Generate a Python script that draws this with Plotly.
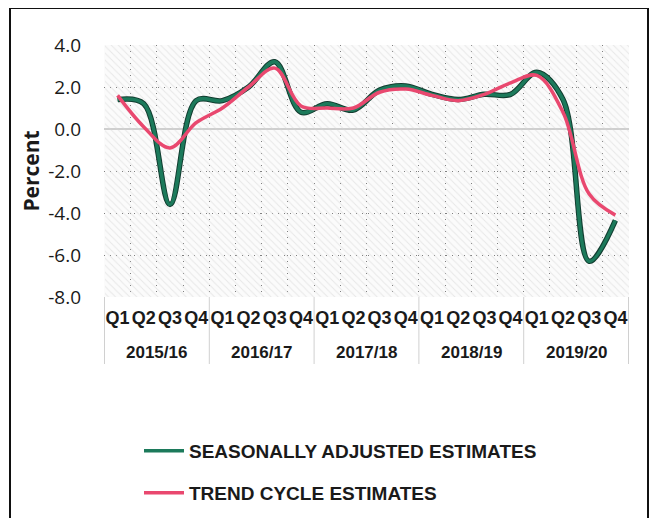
import plotly.graph_objects as go

years = ["2015/16", "2016/17", "2017/18", "2018/19", "2019/20"]
quarters = ["Q1", "Q2", "Q3", "Q4"]
seasonally_adjusted = [1.4, 1.2, -3.6, 1.35, 1.35, 2.0, 3.2, 0.8, 1.2, 0.9,
                       1.85, 2.05, 1.65, 1.4, 1.65, 1.65, 2.7, 1.4, -6.3, -4.35]
trend_cycle = [1.6, 0.1, -0.9, 0.3, 1.0, 2.0, 2.9, 1.1, 1.0, 1.0,
               1.75, 1.9, 1.6, 1.35, 1.65, 2.2, 2.55, 0.8, -3.1, -4.1]
y_ticks = [4.0, 2.0, 0.0, -2.0, -4.0, -6.0, -8.0]
y_tick_labels = ["4.0", "2.0", "0.0", "-2.0", "-4.0", "-6.0", "-8.0"]
y_min, y_max = -8.0, 4.0

categories = [f"{y} {q}" for y in years for q in quarters]
quarter_labels = [q for _ in years for q in quarters]
nq = len(quarters)

# page body has an 8px margin: work in reference pixels minus that offset
O = 8
W, H = 660 - O, 526 - 2 * O
L, R, T, B = 104 - O, W - (629 - O), 45 - O, H - (297 - O)
pw, ph = W - L - R, H - T - B

def px_x(p):
    return (p - O - L) / pw

def px_y(p):
    return (H - B - (p - O)) / ph

GREEN = "#1c7a5b"
PINK = "#e9486f"
GRID = "#7f7f7f"

fig = go.Figure()

# hatched background panel (one full-height band per category)
fig.add_trace(go.Bar(
    x=categories, y=[y_max - y_min] * len(categories), base=y_min,
    marker=dict(color="rgba(0,0,0,0)", line=dict(width=0),
                pattern=dict(shape="\\", fgcolor="#d4d4d4", bgcolor="rgba(0,0,0,0)",
                             size=5, solidity=0.2)),
    hoverinfo="skip", showlegend=False))

# dark edge under the green line
fig.add_trace(go.Scatter(
    x=categories, y=seasonally_adjusted, mode="lines",
    line=dict(color="#123d30", width=5.5, shape="spline", smoothing=1.0),
    hoverinfo="skip", showlegend=False))
fig.add_trace(go.Scatter(
    x=categories, y=seasonally_adjusted, mode="lines",
    name="<b>SEASONALLY ADJUSTED ESTIMATES</b>",
    line=dict(color=GREEN, width=3.5, shape="spline", smoothing=1.0),
    legend="legend"))
fig.add_trace(go.Scatter(
    x=categories, y=trend_cycle, mode="lines",
    name="<b>TREND CYCLE ESTIMATES</b>",
    line=dict(color=PINK, width=3.5, shape="spline", smoothing=1.0),
    legend="legend2"))

legend_font = dict(size=19, family="Liberation Sans, Arial", color="#1a1a1a")

annotations = []
shapes = []
for i, yr in enumerate(years):
    annotations.append(dict(
        text=f"<b>{yr}</b>", x=i * nq + (nq - 1) / 2, xref="x",
        y=px_y(352), yref="paper", xanchor="center", yanchor="middle",
        showarrow=False, font=dict(size=17, family="Liberation Sans, Arial", color="#1a1a1a")))
for i in range(len(years) + 1):
    shapes.append(dict(
        type="line", xref="x", yref="paper",
        x0=i * nq - 0.5, x1=i * nq - 0.5, y0=0, y1=px_y(364),
        line=dict(color="#d0d0d0", width=1)))

# outer chart frame (left, top, right edges visible)
frame = dict(color="#111111", width=2)
shapes.append(dict(type="line", xref="paper", yref="paper",
                   x0=px_x(10), x1=px_x(10), y0=px_y(540), y1=px_y(8), line=frame))
shapes.append(dict(type="line", xref="paper", yref="paper",
                   x0=px_x(10), x1=px_x(648), y0=px_y(8), y1=px_y(8), line=frame))
shapes.append(dict(type="line", xref="paper", yref="paper",
                   x0=px_x(648), x1=px_x(648), y0=px_y(540), y1=px_y(8), line=frame))

fig.update_layout(
    width=W, height=H,
    margin=dict(l=L, r=R, t=T, b=B, autoexpand=False),
    paper_bgcolor="white", plot_bgcolor="#fbfbfb",
    bargap=0,
    font=dict(family="Liberation Sans, Arial, sans-serif", color="#1a1a1a"),
    xaxis=dict(
        type="category", categoryorder="array", categoryarray=categories,
        tickvals=categories, ticktext=quarter_labels,
        tickson="boundaries", tickangle=0, ticklabelstandoff=8,
        showgrid=True, gridcolor=GRID, griddash="1px,5px", gridwidth=1,
        showline=False, ticks="",
        tickfont=dict(size=18, family="Liberation Sans, Arial", weight="bold", color="#1a1a1a"),
    ),
    yaxis=dict(
        range=[y_min, y_max], tickvals=y_ticks, ticktext=y_tick_labels,
        showgrid=True, gridcolor=GRID, griddash="1px,5px", gridwidth=1,
        zeroline=True, zerolinecolor="#cfcfcf", zerolinewidth=1.5,
        showline=False, ticks="", ticklabelstandoff=22,
        tickfont=dict(size=19, family="Open Sans, Liberation Sans, Arial", color="#1a1a1a"),
        title=dict(text="<b>Percent</b>", font=dict(size=21, family="Open Sans, Liberation Sans, Arial"), standoff=2),
    ),
    legend=dict(x=px_x(139), y=px_y(432), xanchor="left", yanchor="top",
                font=legend_font, bgcolor="rgba(0,0,0,0)", itemwidth=40),
    legend2=dict(x=px_x(139), y=px_y(474), xanchor="left", yanchor="top",
                 font=legend_font, bgcolor="rgba(0,0,0,0)", itemwidth=40),
    annotations=annotations,
    shapes=shapes,
)

fig.write_html("out.html")
